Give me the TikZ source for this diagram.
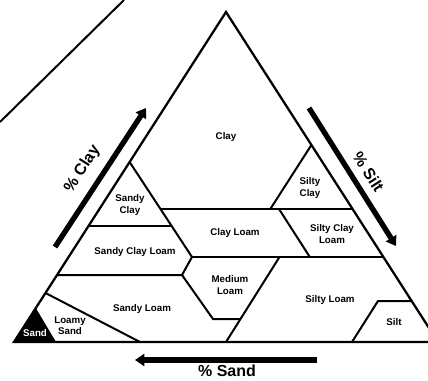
\documentclass[tikz,border=0pt]{standalone}
\usepackage{fontspec}
\setmainfont{Liberation Sans}
\usetikzlibrary{arrows.meta}

\begin{document}
\begin{tikzpicture}[
  x=0.75pt, y=-0.75pt,
  rim/.style={line width=1.7pt, line join=miter},
  edge/.style={line width=1.5pt, line join=miter},
  zone/.style={font=\fontsize{7.3}{8.3}\selectfont\bfseries, align=center, inner sep=0pt},
  axis/.style={font=\fontsize{12}{14}\selectfont\bfseries, inner sep=0pt},
  bigarrow/.style={line width=4pt, -{Triangle[length=7pt, width=9pt]}},
]
  \useasboundingbox (0,0) rectangle (428,381);
  \clip (0,0) rectangle (428,381);

  \coordinate (A) at (226,12);
  \coordinate (L) at (14,342);
  \coordinate (R) at (438,342);

  % stray edge top left
  \coordinate (s0) at (0,122);
  \coordinate (s1) at (124,0);
  \draw[edge] (s0) -- (s1);

  \fill (L) -- (35.8,308) -- (56,342) -- cycle;
  \draw[rim] (L) -- (A) -- (R) -- cycle;

  \draw[edge] (129.6,162) -- (192,257);
  \draw[edge] (88.5,226) -- (170.7,226);
  \draw[edge] (159.8,209) -- (352.6,209);
  \draw[edge] (311.4,145) -- (270.3,209);
  \draw[edge] (279,209) -- (309.8,257);
  \draw[edge] (192,257) -- (383.4,257);
  \draw[edge] (57,275) -- (182,275) -- (192,257);
  \draw[edge] (182,275) -- (213,319) -- (240.5,319);
  \draw[edge] (279.5,257) -- (226,342);
  \draw[edge] (45.5,293) -- (140,342);
  \draw[edge] (352,342) -- (378,301) -- (411.7,301);

  \node[zone] (clay) at (226,137) {Clay};
  \node[zone] (sandyclay) at (130,205) {Sandy\\Clay};
  \node[zone] (siltyclay) at (310,188) {Silty\\Clay};
  \node[zone] (clayloam) at (235,233) {Clay Loam};
  \node[zone] (siltyclayloam) at (332,234) {Silty Clay\\Loam};
  \node[zone] (sandyclayloam) at (135,252) {Sandy Clay Loam};
  \node[zone] (mediumloam) at (230,285) {Medium\\Loam};
  \node[zone] (sandyloam) at (142,309) {Sandy Loam};
  \node[zone] (siltyloam) at (330,300) {Silty Loam};
  \node[zone] (silt) at (394,322) {Silt};
  \node[zone] (loamysand) at (70,326) {Loamy\\Sand};
  \node[zone, text=white] (sand) at (35,333) {Sand};

  \coordinate (clay0) at (55,247);
  \coordinate (clay1) at (146,108);
  \coordinate (silt0) at (309,108);
  \coordinate (silt1) at (396,246);
  \coordinate (sand0) at (317,360);
  \coordinate (sand1) at (135,360);
  \draw[bigarrow] (clay0) -- (clay1);
  \draw[bigarrow] (silt0) -- (silt1);
  \draw[bigarrow] (sand0) -- (sand1);

  \node[axis, rotate=57.3] (clayaxis) at (82.5,169) {\% Clay};
  \node[axis, rotate=-57.3] (siltaxis) at (368.5,172) {\% Silt};
  \node[axis] (sandaxis) at (227,371) {\% Sand};
\end{tikzpicture}
\end{document}
